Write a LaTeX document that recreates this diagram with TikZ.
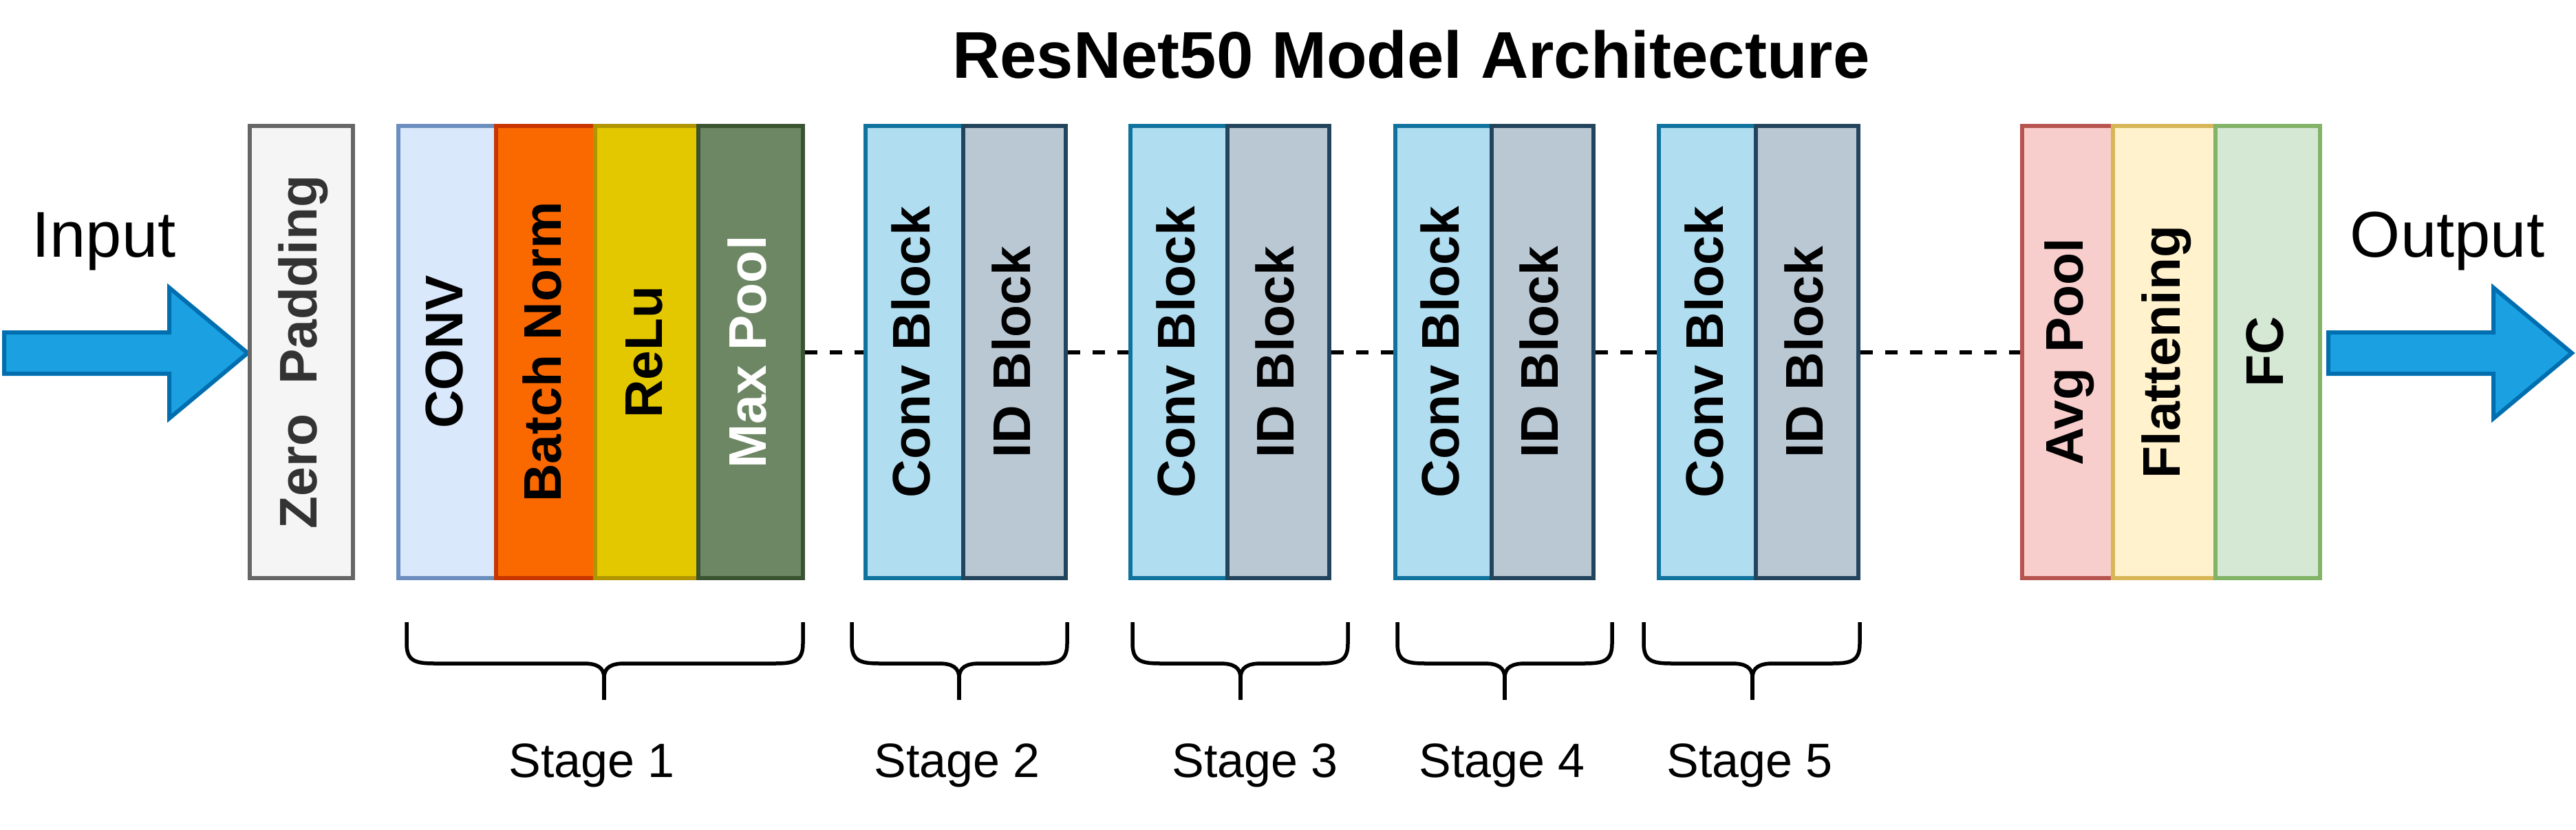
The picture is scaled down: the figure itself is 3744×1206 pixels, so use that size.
\documentclass[tikz,border=0pt]{standalone}
\usepackage{fontspec}
\setmainfont{Liberation Sans}
\usepackage{graphicx}
\definecolor{zpF}{HTML}{F5F5F5}\definecolor{zpD}{HTML}{666666}\definecolor{zpT}{HTML}{333333}
\definecolor{cvF}{HTML}{DAE8FC}\definecolor{cvD}{HTML}{6C8EBF}
\definecolor{bnF}{HTML}{FA6800}\definecolor{bnD}{HTML}{C73500}
\definecolor{rlF}{HTML}{E3C800}\definecolor{rlD}{HTML}{B09500}
\definecolor{mpF}{HTML}{6D8764}\definecolor{mpD}{HTML}{3A5431}
\definecolor{cbF}{HTML}{B1DDF0}\definecolor{cbD}{HTML}{10739E}
\definecolor{idF}{HTML}{BAC8D3}\definecolor{idD}{HTML}{23445D}
\definecolor{apF}{HTML}{F8CECC}\definecolor{apD}{HTML}{B85450}
\definecolor{flF}{HTML}{FFF2CC}\definecolor{flD}{HTML}{D6B656}
\definecolor{fcF}{HTML}{D5E8D4}\definecolor{fcD}{HTML}{82B366}
\definecolor{arF}{HTML}{1BA1E2}\definecolor{arD}{HTML}{006EAF}
\newcommand\rl[1]{\rotatebox{90}{\raisebox{0pt}[0.72em][0.13em]{#1}}}
\newcommand\blkat[5]{\node[#4, minimum width={#3-#2}] (#1) at ({(#2+#3)/2},511.5) {\rl{#5}};}
\newcommand\stagebrace[3]{%
  \draw[bracestyle] (#1,904) -- (#1,935) .. controls (#1,960) and ({#1+12},964) .. ({#1+40},964)
    -- ({#2-30},964) .. controls ({#2-10},964) and (#2,970) .. (#2,985)
    .. controls (#2,970) and ({#2+10},964) .. ({#2+30},964)
    -- ({#3-40},964) .. controls ({#3-12},964) and (#3,960) .. (#3,935) -- (#3,904);
  \draw[bracestyle] (#2,984) -- (#2,1017);}
\begin{document}
\begin{tikzpicture}[x=1pt,y=-1pt,
  blk/.style={draw, line width=6pt, inner sep=0pt, minimum height=657pt,
    font=\bfseries\fontsize{77}{80}\selectfont},
  zpbox/.style={blk, fill=zpF, draw=zpD, text=zpT},
  cvbox/.style={blk, fill=cvF, draw=cvD},
  bnbox/.style={blk, fill=bnF, draw=bnD},
  rlbox/.style={blk, fill=rlF, draw=rlD},
  mpbox/.style={blk, fill=mpF, draw=mpD, text=white},
  cbbox/.style={blk, fill=cbF, draw=cbD},
  idbox/.style={blk, fill=idF, draw=idD},
  apbox/.style={blk, fill=apF, draw=apD},
  flbox/.style={blk, fill=flF, draw=flD},
  fcbox/.style={blk, fill=fcF, draw=fcD},
  dotline/.style={line width=6pt, dash pattern=on 18pt off 18pt},
  bigarrow/.style={line width=6pt, fill=arF, draw=arD, line join=miter},
  bracestyle/.style={line width=5.5pt},
  stagetxt/.style={anchor=base, inner sep=0pt, font=\fontsize{70}{80}\selectfont},
  iotxt/.style={anchor=base, inner sep=0pt, font=\fontsize{94}{100}\selectfont}]
\useasboundingbox (0,0) rectangle (3744,1206);
\node[anchor=base, inner sep=0pt, font=\bfseries\fontsize{96}{100}\selectfont] (title) at (2051,114) {ResNet50 Model Architecture};
\node[iotxt] (input) at (151,373) {Input};
\node[iotxt] (output) at (3557,373) {Output};
% arrows
\draw[bigarrow] (6,483) -- (246,483) -- (246,418) -- (360,513) -- (246,608) -- (246,543) -- (6,543) -- cycle;
\draw[bigarrow] (3384,483) -- (3624,483) -- (3624,418) -- (3738,513) -- (3624,608) -- (3624,543) -- (3384,543) -- cycle;
% blocks
\blkat{zp}{363}{513}{zpbox}{Zero\ \ Padding}
\blkat{conv}{579}{721}{cvbox}{CONV}
\blkat{bn}{721}{865}{bnbox}{Batch Norm}
\blkat{relu}{865}{1015}{rlbox}{ReLu}
\blkat{mp}{1015}{1167}{mpbox}{Max Pool}
\blkat{cbA}{1258}{1400}{cbbox}{Conv Block}
\blkat{idA}{1400}{1549}{idbox}{ID Block}
\blkat{cbB}{1643}{1784}{cbbox}{Conv Block}
\blkat{idB}{1784}{1932}{idbox}{ID Block}
\blkat{cbC}{2028}{2168}{cbbox}{Conv Block}
\blkat{idC}{2168}{2316}{idbox}{ID Block}
\blkat{cbD}{2411}{2552}{cbbox}{Conv Block}
\blkat{idD}{2552}{2701}{idbox}{ID Block}
\blkat{ap}{2939}{3071}{apbox}{Avg Pool}
\blkat{fl}{3071}{3220}{flbox}{Flattening}
\blkat{fc}{3220}{3372}{fcbox}{FC}
% dotted connectors
\draw[dotline] (mp.east) -- (cbA.west);
\draw[dotline] (idA.east) -- (cbB.west);
\draw[dotline] (idB.east) -- (cbC.west);
\draw[dotline] (idC.east) -- (cbD.west);
\draw[dotline] (idD.east) -- (ap.west);
% braces
\stagebrace{591}{878}{1167}
\stagebrace{1238}{1394}{1551}
\stagebrace{1646}{1803}{1959}
\stagebrace{2031}{2187}{2343}
\stagebrace{2389}{2547}{2703}
% stage labels
\node[stagetxt] (s1) at (860,1129) {Stage 1};
\node[stagetxt] (s2) at (1391,1129) {Stage 2};
\node[stagetxt] (s3) at (1824,1129) {Stage 3};
\node[stagetxt] (s4) at (2183,1129) {Stage 4};
\node[stagetxt] (s5) at (2543,1129) {Stage 5};
\end{tikzpicture}
\end{document}
